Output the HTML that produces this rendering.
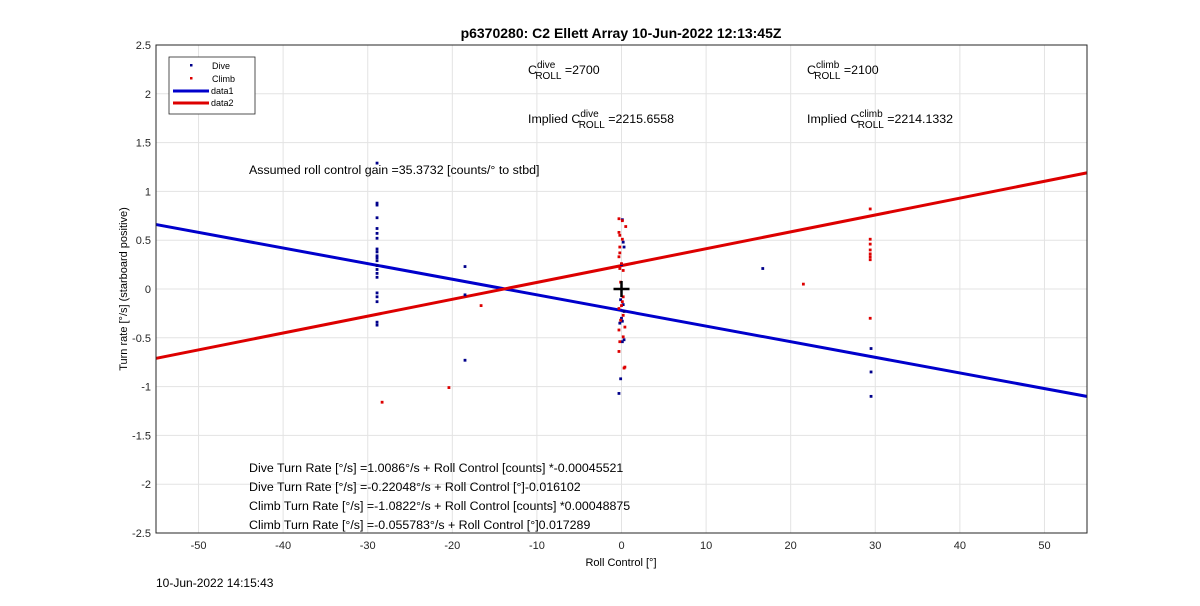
<!DOCTYPE html>
<html><head><meta charset="utf-8"><style>
body{margin:0;background:#fff;font-family:"Liberation Sans",Arial,sans-serif}
svg text{font-family:"Liberation Sans",Arial,sans-serif}
</style></head><body>
<svg id="chart" width="1200" height="601" viewBox="0 0 1200 601" xmlns="http://www.w3.org/2000/svg">
<rect width="1200" height="601" fill="#fff"/>
<g id="grid"></g><g id="ticks"></g><g id="lines"></g><g id="pts"></g>
<rect x="156" y="45" width="931" height="488" fill="none" stroke="#262626" stroke-width="1"/>
<text x="621" y="38" text-anchor="middle" font-size="14" font-weight="bold">p6370280: C2 Ellett Array 10-Jun-2022 12:13:45Z</text>
<text x="621" y="566" text-anchor="middle" font-size="11">Roll Control [°]</text>
<text transform="translate(127,289) rotate(-90)" text-anchor="middle" font-size="11">Turn rate [°/s] (starboard positive)</text>
<text x="156" y="587" font-size="12">10-Jun-2022 14:15:43</text>
<g font-size="12.4">
<text x="528" y="74">C<tspan font-size="10" dy="-6">dive</tspan><tspan font-size="10" dx="-20" dy="11">ROLL</tspan><tspan dy="-5"> =2700</tspan></text>
<text x="807" y="74">C<tspan font-size="10" dy="-6">climb</tspan><tspan font-size="10" dx="-25" dy="11">ROLL</tspan><tspan dy="-5"> =2100</tspan></text>
<text x="528" y="123">Implied C<tspan font-size="10" dy="-6">dive</tspan><tspan font-size="10" dx="-20" dy="11">ROLL</tspan><tspan dy="-5"> =2215.6558</tspan></text>
<text x="807" y="123">Implied C<tspan font-size="10" dy="-6">climb</tspan><tspan font-size="10" dx="-25" dy="11">ROLL</tspan><tspan dy="-5"> =2214.1332</tspan></text>
<text x="249" y="174">Assumed roll control gain =35.3732 [counts/° to stbd]</text>
<text x="249" y="472">Dive Turn Rate [°/s] =1.0086°/s + Roll Control [counts] *-0.00045521</text>
<text x="249" y="491">Dive Turn Rate [°/s] =-0.22048°/s + Roll Control [°]-0.016102</text>
<text x="249" y="510">Climb Turn Rate [°/s] =-1.0822°/s + Roll Control [counts] *0.00048875</text>
<text x="249" y="529">Climb Turn Rate [°/s] =-0.055783°/s + Roll Control [°]0.017289</text>
</g>
<g>
<rect x="169" y="57" width="86" height="57" fill="#fff" stroke="#262626" stroke-width="0.8"/>
<rect x="190" y="64" width="2.5" height="2.5" fill="#00008b"/><text x="212" y="69" font-size="9">Dive</text>
<rect x="190" y="77" width="2.5" height="2.5" fill="#d00"/><text x="212" y="82" font-size="9">Climb</text>
<line x1="173" y1="91" x2="209" y2="91" stroke="#0000cc" stroke-width="3"/><text x="211" y="94" font-size="9">data1</text>
<line x1="173" y1="103" x2="209" y2="103" stroke="#d00" stroke-width="3"/><text x="211" y="106" font-size="9">data2</text>
</g>
</svg>
<script>
const xTicks=[-50,-40,-30,-20,-10,0,10,20,30,40,50];
const yTicks=[-2.5,-2,-1.5,-1,-0.5,0,0.5,1,1.5,2,2.5];
const diveX=[-28.9,-28.9,-28.9,-28.9,-28.9,-28.9,-28.9,-28.9,-28.9,-28.9,-28.9,-28.9,-28.9,-28.9,-28.9,-28.9,-28.9,-28.9,-28.9,-28.9,-28.9,-18.5,-18.5,-18.5,0.1,0.2,0.3,0,-0.1,0.2,0.3,0,0.1,-0.2,0.3,0.1,-0.1,-0.3,16.7,29.5,29.5,29.5];
const diveY=[1.29,0.88,0.86,0.73,0.62,0.57,0.52,0.41,0.38,0.34,0.32,0.29,0.24,0.2,0.16,0.12,-0.04,-0.08,-0.13,-0.34,-0.37,0.23,-0.06,-0.73,0.71,0.48,0.43,0.25,-0.11,-0.16,-0.23,-0.3,-0.33,-0.35,-0.52,-0.54,-0.92,-1.07,0.21,-0.61,-0.85,-1.1];
const climbX=[-28.3,-20.4,-16.6,-0.3,0.1,0.5,-0.3,-0.2,0.1,-0.2,-0.2,-0.3,0,-0.2,0.2,-0.1,0.2,0.1,0,-0.3,0.2,-0.1,0.4,-0.3,0.2,-0.2,-0.3,0.4,0.3,21.5,29.4,29.4,29.4,29.4,29.4,29.4,29.4,29.4];
const climbY=[-1.16,-1.01,-0.17,0.72,0.7,0.64,0.58,0.55,0.51,0.43,0.37,0.33,0.26,0.21,0.19,0.07,-0.08,-0.13,-0.17,-0.2,-0.27,-0.32,-0.39,-0.42,-0.49,-0.54,-0.64,-0.8,-0.81,0.05,0.82,0.51,0.46,0.4,0.36,0.33,0.3,-0.3];
const fitX=[-55,55];
const diveFit=[0.66,-1.1];
const climbFit=[-0.71,1.19];
const X=v=>621.5+v*(930.5/110);
const Y=v=>289-v*(488/5);
const NS="http://www.w3.org/2000/svg";
function mk(parent,tag,attrs){const e=document.createElementNS(NS,tag);for(const k in attrs)e.setAttribute(k,attrs[k]);document.getElementById(parent).appendChild(e);return e;}
xTicks.forEach(t=>{
 const g=mk('grid','line',{x1:X(t),x2:X(t),y1:45,y2:533,stroke:'#e3e3e3'});
 
 
 const l=mk('ticks','text',{x:X(t),y:549,'text-anchor':'middle','font-size':11,fill:'#262626'});l.textContent=t;
 
 
});
yTicks.forEach(t=>{
 const g=mk('grid','line',{x1:156,x2:1087,y1:Y(t),y2:Y(t),stroke:'#e3e3e3'});
 
 
 const l=mk('ticks','text',{x:151,y:Y(t)+4,'text-anchor':'end','font-size':11,fill:'#262626'});l.textContent=t;
 
 
});
const b=mk('lines','line',{x1:X(fitX[0]),y1:Y(diveFit[0]),x2:X(fitX[1]),y2:Y(diveFit[1]),stroke:'#0000cc','stroke-width':3});


const r=mk('lines','line',{x1:X(fitX[0]),y1:Y(climbFit[0]),x2:X(fitX[1]),y2:Y(climbFit[1]),stroke:'#dd0000','stroke-width':3});


diveX.forEach((x,i)=>{const p=mk('pts','rect',{x:X(x)-1.4,y:Y(diveY[i])-1.4,width:2.8,height:2.8,fill:'#00008b'});
 
 });
climbX.forEach((x,i)=>{const p=mk('pts','rect',{x:X(x)-1.4,y:Y(climbY[i])-1.4,width:2.8,height:2.8,fill:'#dd0000'});
 
 });
const c1=mk('pts','line',{x1:X(0)-8,x2:X(0)+8,y1:Y(0),y2:Y(0),stroke:'#000','stroke-width':2.5});


const c2=mk('pts','line',{x1:X(0),x2:X(0),y1:Y(0)-8,y2:Y(0)+8,stroke:'#000','stroke-width':2.5});


</script>
</body></html>
